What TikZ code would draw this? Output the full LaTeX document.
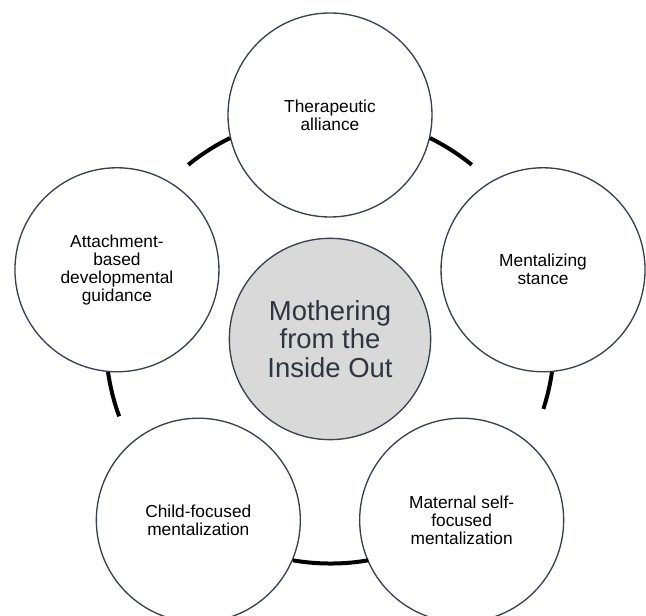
\documentclass[tikz,border=0pt]{standalone}
\usepackage{fontspec}
\setmainfont{Liberation Sans}
\usepackage{xcolor}
\usepackage{tikz}
\usetikzlibrary{positioning}
\tikzset{
  stage/.style={circle, draw=rim, line width=1pt, fill=white, minimum size=153pt,
                inner sep=0pt, font=\fontsize{13}{13.5}\selectfont, align=center},
  hub/.style={circle, draw=rim, line width=1pt, fill=hubgray, minimum size=151pt,
              inner sep=0pt, font=\fontsize{20.6}{21.5}\selectfont, text=hubtext, align=center},
  link/.style={line width=3pt, draw=black},
}
\definecolor{rim}{HTML}{3B4050}
\definecolor{hubgray}{HTML}{D9D9D9}
\definecolor{hubtext}{HTML}{2E3440}

\begin{document}
\begin{tikzpicture}[x=0.75pt,y=0.75pt]
  \useasboundingbox (-330,-277) rectangle (316,339);
  \node[hub] (core) at (0,0) {Mothering\\from the\\Inside Out};
  \node[stage] (alliance) at (90:224) {Therapeutic\\alliance};
  \node[stage] (stance) at (18:224) {Mentalizing\\stance};
  \node[stage] (maternal) at (-54:224) {Maternal self-\\focused\\mentalization};
  \node[stage] (child) at (234:224) {Child-focused\\mentalization};
  \node[stage] (guidance) at (162:224) {Attachment-\\based\\developmental\\guidance};
  % ring pieces between the outer circles
  \foreach \n/\a/\s/\e in {alliance/-13/63.7/51, alliance/193/116.3/129,
                           stance/-85/-8.3/-18, guidance/265/188.3/200,
                           child/337/260.3/279.7}
    {\draw[link] (\n.\a) arc[start angle=\s, end angle=\e, radius=168pt];}
\end{tikzpicture}
\end{document}
